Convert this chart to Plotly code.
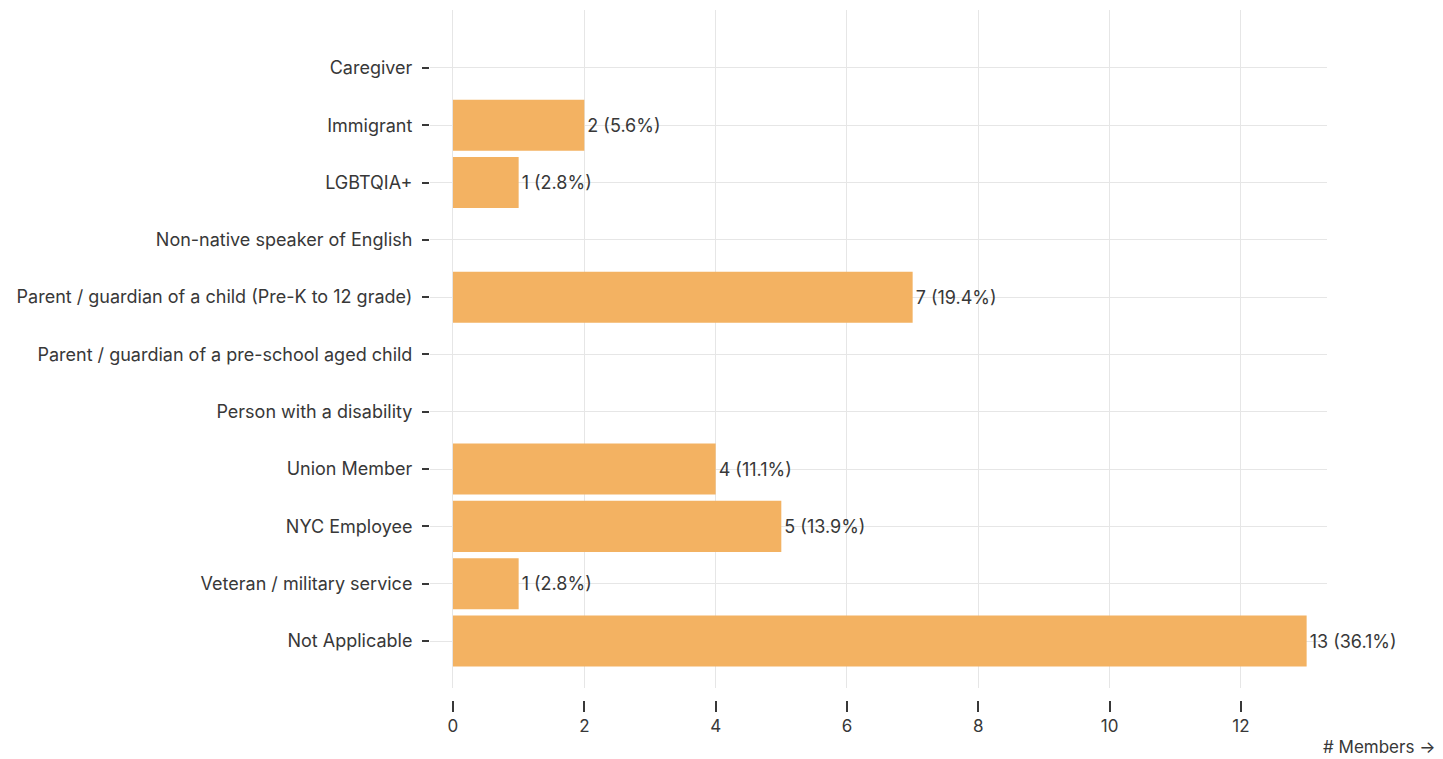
import plotly.graph_objects as go

categories = [
    "Caregiver",
    "Immigrant",
    "LGBTQIA+",
    "Non-native speaker of English",
    "Parent / guardian of a child (Pre-K to 12 grade)",
    "Parent / guardian of a pre-school aged child",
    "Person with a disability",
    "Union Member",
    "NYC Employee",
    "Veteran / military service",
    "Not Applicable",
]
members = [0, 2, 1, 0, 7, 0, 0, 4, 5, 1, 13]
total_respondents = 36
x_ticks = [0, 2, 4, 6, 8, 10, 12]

labels = [f"{v} ({v / total_respondents * 100:.1f}%)" if v > 0 else "" for v in members]

FONT = "Inter, 'Noto Sans', sans-serif"
TXT = "#383838"
GRID = "#e6e6e6"

fig = go.Figure(
    go.Bar(
        x=members,
        y=categories,
        orientation="h",
        marker=dict(color="#F3B262", line=dict(width=0)),
        text=labels,
        textposition="outside",
        textfont=dict(family=FONT, size=18, color=TXT),
        cliponaxis=False,
        hoverinfo="skip",
    )
)

fig.update_layout(
    width=1435,
    height=751,
    paper_bgcolor="white",
    plot_bgcolor="white",
    margin=dict(l=422, r=116, t=2, b=59),
    bargap=0.11,
    showlegend=False,
    font=dict(family=FONT, size=18, color=TXT),
    xaxis=dict(
        range=[-0.35, 13.31],
        tickvals=x_ticks,
        ticks="outside",
        ticklen=11,
        tickwidth=1.5,
        tickcolor=TXT,
        showgrid=True,
        gridcolor=GRID,
        gridwidth=1,
        zeroline=False,
        showline=False,
        anchor="free",
        position=0,
        tickfont=dict(family=FONT, size=17, color=TXT),
    ),
    yaxis=dict(
        domain=[0.0174, 1],
        categoryorder="array",
        categoryarray=categories,
        range=[10.82, -1.01],
        ticks="outside",
        ticklen=7,
        tickwidth=1.5,
        tickcolor=TXT,
        ticklabelstandoff=6,
        showgrid=True,
        gridcolor=GRID,
        gridwidth=1,
        zeroline=False,
        showline=False,
        tickfont=dict(family=FONT, size=18, color=TXT),
    ),
    annotations=[
        dict(
            text="# Members →",
            xref="paper",
            yref="paper",
            x=1,
            y=0,
            xshift=110,
            yshift=-47,
            xanchor="right",
            yanchor="middle",
            showarrow=False,
            font=dict(family=FONT, size=17, color=TXT),
        )
    ],
)

fig.write_html("out.html")
